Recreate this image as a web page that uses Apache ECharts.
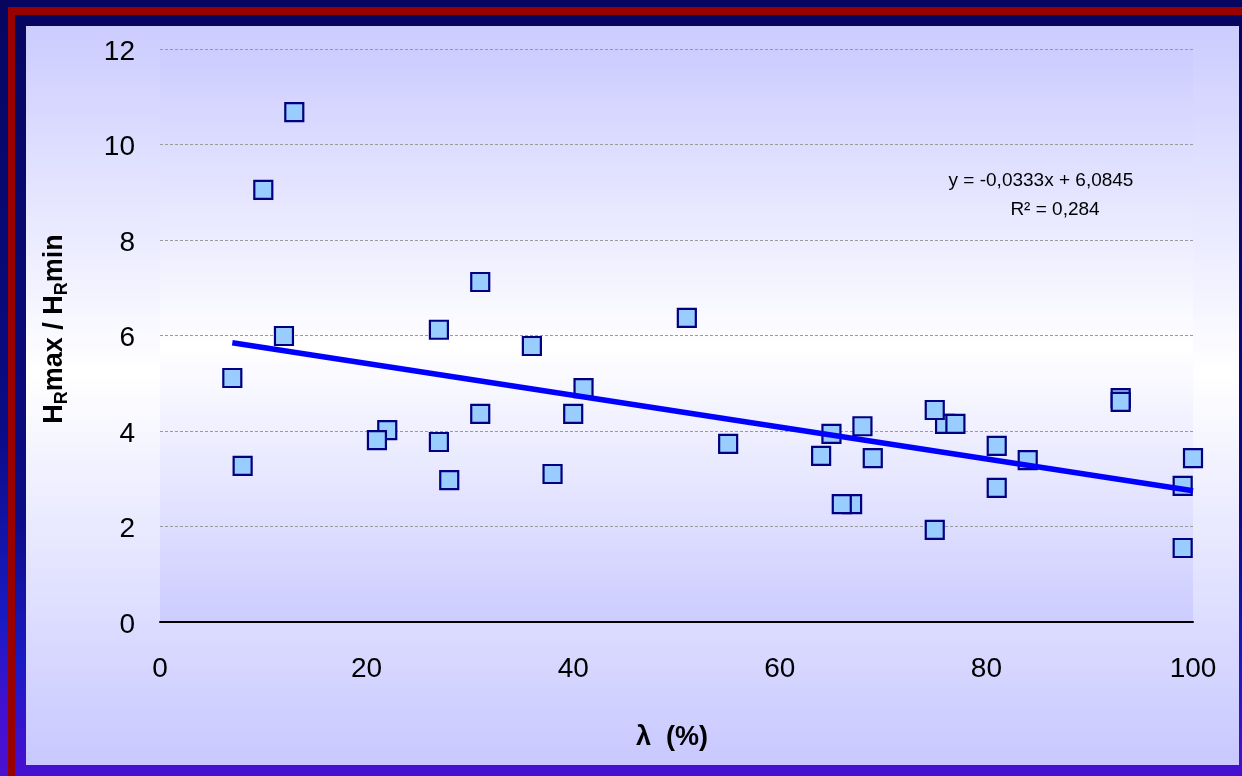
<!DOCTYPE html>
<html>
<head>
<meta charset="utf-8">
<script src="https://cdn.jsdelivr.net/npm/echarts@6/dist/echarts.min.js"></script>
<style>
html,body{margin:0;padding:0;background:#060660;}
#chart{width:1242px;height:776px;}
</style>
</head>
<body>
<div id="chart"></div>
<script>
// λ (%) values
const lambdaValues = [7, 8, 10, 12, 13, 22, 21, 27, 27, 28, 31, 31, 36, 38, 40, 41, 51, 55, 64, 65, 67, 66, 68, 69, 76, 77, 75, 75, 81, 81, 84, 93, 93, 99, 99, 100];
// HRmax / HRmin values
const ratioValues = [5.11, 3.27, 9.05, 5.99, 10.68, 4.02, 3.81, 6.12, 3.77, 2.97, 7.12, 4.36, 5.78, 3.10, 4.36, 4.90, 6.37, 3.73, 3.48, 3.94, 2.47, 2.47, 4.10, 3.43, 4.15, 4.15, 4.44, 1.93, 3.69, 2.81, 3.39, 4.69, 4.61, 2.85, 1.55, 3.43];
// linear trend line end points
const trendX = [7, 100];
const trendY = [5.85, 2.75];
const xTicks = [0, 20, 40, 60, 80, 100];
const yTicks = [0, 2, 4, 6, 8, 10, 12];
const equationText = 'y = -0,0333x + 6,0845';
const r2Text = 'R² = 0,284';

const FONT = '"Liberation Sans", Arial, sans-serif';
const chart = echarts.init(document.getElementById('chart'), null, {renderer: 'canvas'});
const LG = echarts.graphic.LinearGradient;

const points = lambdaValues.map((x, i) => [x, ratioValues[i]]);
const trend = trendX.map((x, i) => [x, trendY[i]]);

chart.setOption({
  animation: false,
  backgroundColor: new LG(0, 0, 0, 1, [
    {offset: 0, color: '#060660'},
    {offset: 0.55, color: '#0b0b84'},
    {offset: 0.8, color: '#1a1ac4'},
    {offset: 0.92, color: '#4410d0'},
    {offset: 1, color: '#4c10d0'}
  ]),
  graphic: [
    {type: 'rect', z: -10, shape: {x: 8, y: 7, width: 1300, height: 900}, style: {fill: '#990000'}},
    {type: 'rect', z: -9, shape: {x: 15, y: 15, width: 1300, height: 900}, style: {
      fill: new LG(0, 0, 0, 1, [
        {offset: 0, color: '#060660'},
        {offset: 0.55, color: '#0b0b84'},
        {offset: 0.72, color: '#1a1ac4'},
        {offset: 0.83, color: '#4410d0'},
        {offset: 1, color: '#4c10d0'}
      ])}},
    {type: 'rect', z: -8, shape: {x: 26, y: 26, width: 1213, height: 739}, style: {
      fill: new LG(0, 0, 0, 1, [
        {offset: 0, color: '#ccccff'},
        {offset: 0.47, color: '#ffffff'},
        {offset: 1, color: '#c8c8ff'}
      ])}},
    {type: 'text', z: 10, x: 1041, y: 181, style: {text: equationText, font: '19px ' + FONT, fill: '#000', align: 'center', verticalAlign: 'middle'}},
    {type: 'text', z: 10, x: 1055, y: 210, style: {text: r2Text, font: '19px ' + FONT, fill: '#000', align: 'center', verticalAlign: 'middle'}},
    {type: 'text', z: 10, x: 672, y: 738, style: {text: 'λ  (%)', font: 'bold 27px ' + FONT, fill: '#000', align: 'center', verticalAlign: 'middle'}},
    {type: 'text', z: 10, x: 55, y: 329, rotation: Math.PI / 2, style: {
      text: '{b|H}{s|R}{b|max / H}{s|R}{b|min}',
      align: 'center', verticalAlign: 'middle', fill: '#000',
      rich: {
        b: {fontFamily: FONT, fontWeight: 'bold', fontSize: 27, lineHeight: 32, verticalAlign: 'middle', fill: '#000'},
        s: {fontFamily: FONT, fontWeight: 'bold', fontSize: 18, lineHeight: 24, verticalAlign: 'bottom', fill: '#000'}
      }
    }}
  ],
  grid: {
    left: 160, right: 49, top: 49, bottom: 154,
    show: true, borderWidth: 0,
    backgroundColor: new LG(0, 0, 0, 1, [
      {offset: 0, color: '#ccccff'},
      {offset: 0.52, color: '#ffffff'},
      {offset: 1, color: '#ccccff'}
    ])
  },
  xAxis: {
    type: 'value', min: xTicks[0], max: xTicks[xTicks.length - 1], interval: xTicks[1] - xTicks[0],
    axisLine: {show: true, onZero: false, lineStyle: {color: '#000', width: 2}},
    axisTick: {show: false},
    splitLine: {show: false},
    axisLabel: {color: '#000', fontSize: 28, fontFamily: FONT, margin: 33}
  },
  yAxis: {
    type: 'value', min: yTicks[0], max: yTicks[yTicks.length - 1], interval: yTicks[1] - yTicks[0],
    axisLine: {show: false},
    axisTick: {show: false},
    splitLine: {show: true, lineStyle: {color: '#9a9a9a', width: 1, type: [3, 2]}},
    axisLabel: {
      margin: 25,
      formatter: v => '{t|' + v + '}',
      rich: {t: {color: '#000', fontSize: 28, fontFamily: FONT, padding: [6, 0, 0, 0]}}
    }
  },
  series: [
    {
      type: 'scatter', data: points, symbol: 'rect', symbolSize: 18, z: 3,
      itemStyle: {color: '#99ccff', borderColor: '#000080', borderWidth: 2.2, opacity: 1},
      emphasis: {disabled: true}
    },
    {
      type: 'line', data: trend, z: 4, symbol: 'none',
      lineStyle: {color: '#0000ff', width: 5.5},
      emphasis: {disabled: true}
    }
  ]
});
</script>
</body>
</html>
